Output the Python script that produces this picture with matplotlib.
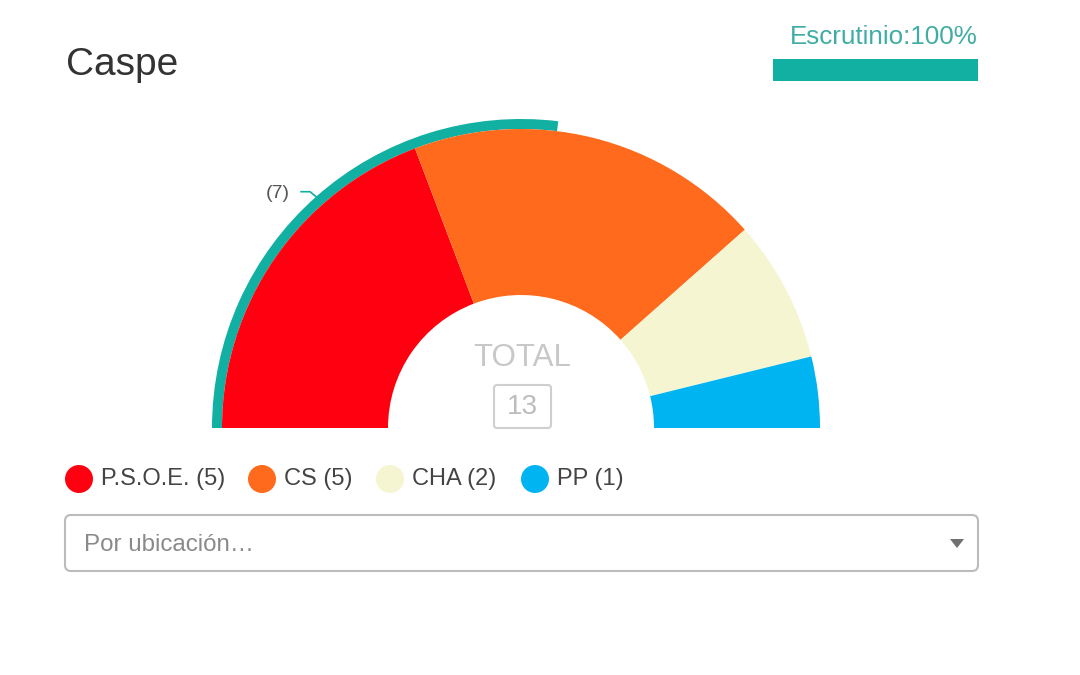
import matplotlib
matplotlib.use('Agg')
import matplotlib.pyplot as plt
from matplotlib.patches import Wedge, Circle, Rectangle, FancyBboxPatch, Polygon
import numpy as np

plt.rcParams['font.family'] = ['Liberation Sans', 'DejaVu Sans']

# data
municipio = 'Caspe'
escrutinio = 100
partidos = ['P.S.O.E.', 'CS', 'CHA', 'PP']
escanos = [5, 5, 2, 1]
colores = ['#FF0010', '#FF6A1C', '#F5F5D2', '#00B4F2']
teal = '#12B0A2'

W, H = 1080, 675
fig = plt.figure(figsize=(W / 100, H / 100), dpi=100)
ax = fig.add_axes([0, 0, 1, 1])
ax.set_xlim(0, W)
ax.set_ylim(0, H)
ax.axis('off')


def Y(y):
    # pixel row (top down) -> data y
    return H - y


total = sum(escanos)
cx, cy = 521, Y(428)
r_out, r_in = 299, 133

# majority arc (behind the segments)
mayoria = total // 2 + 1
ang_may = 180 - 180 * mayoria / total
ax.add_patch(Wedge((cx, cy), 309, ang_may, 180, width=10, color=teal, lw=0, zorder=1))

# hemicycle segments
start = 180.0
for nombre, n, col in zip(partidos, escanos, colores):
    end = start - 180 * n / total
    ax.add_patch(Wedge((cx, cy), r_out, end, start, width=r_out - r_in,
                       facecolor=col, edgecolor='none', lw=0, zorder=2))
    start = end

# majority label at the middle of the arc
mid = np.radians((180 + ang_may) / 2)
x1, y1 = cx + 309 * np.cos(mid), cy + 309 * np.sin(mid)
ax.plot([x1 - 15, x1 - 6, x1], [y1 + 5, y1 + 5, y1], color=teal, lw=1.2, zorder=3)
ax.text(x1 - 26, y1 + 3, '(%d)' % mayoria, ha='right', va='center',
        fontsize=14, color='#555555')

# centre labels
ax.text(cx + 1, Y(358), 'TOTAL', ha='center', va='center', fontsize=22.5, color='#C8C8C8')
ax.add_patch(FancyBboxPatch((494, Y(428)), 57, 43,
                            boxstyle='round,pad=0,rounding_size=3',
                            facecolor='none', edgecolor='#CFCFCF', lw=1.5, zorder=3))
ax.text(cx + 1, Y(407), str(total), ha='center', va='center', fontsize=20, color='#BDBDBD')

# title and scrutiny bar
ax.text(66, Y(65), municipio, ha='left', va='center', fontsize=28, color='#333333')
ax.text(978, Y(37), 'Escrutinio:%d%%' % escrutinio, ha='right', va='center',
        fontsize=18.7, color='#3FADA3')
ax.add_patch(Rectangle((773, Y(81)), 205 * escrutinio / 100, 22, color=teal, lw=0))

# legend
leg_x = [79, 262, 390, 535]
for x, nombre, n, col in zip(leg_x, partidos, escanos, colores):
    ax.add_patch(Circle((x, Y(479)), 14, color=col, lw=0))
    ax.text(x + 22, Y(479), '%s (%d)' % (nombre, n), ha='left', va='center',
            fontsize=17, color='#444444')

# dropdown
ax.add_patch(FancyBboxPatch((65, Y(571)), 913, 56,
                            boxstyle='round,pad=0,rounding_size=6',
                            facecolor='white', edgecolor='#BBBBBB', lw=1.5))
ax.text(84, Y(545), 'Por ubicación…', ha='left', va='center', fontsize=17.4, color='#8A8A8A')
ax.add_patch(Polygon([(950, Y(539)), (964, Y(539)), (957, Y(548))], closed=True,
                     color='#707070', lw=0))

fig.savefig('out.png', dpi=100)
